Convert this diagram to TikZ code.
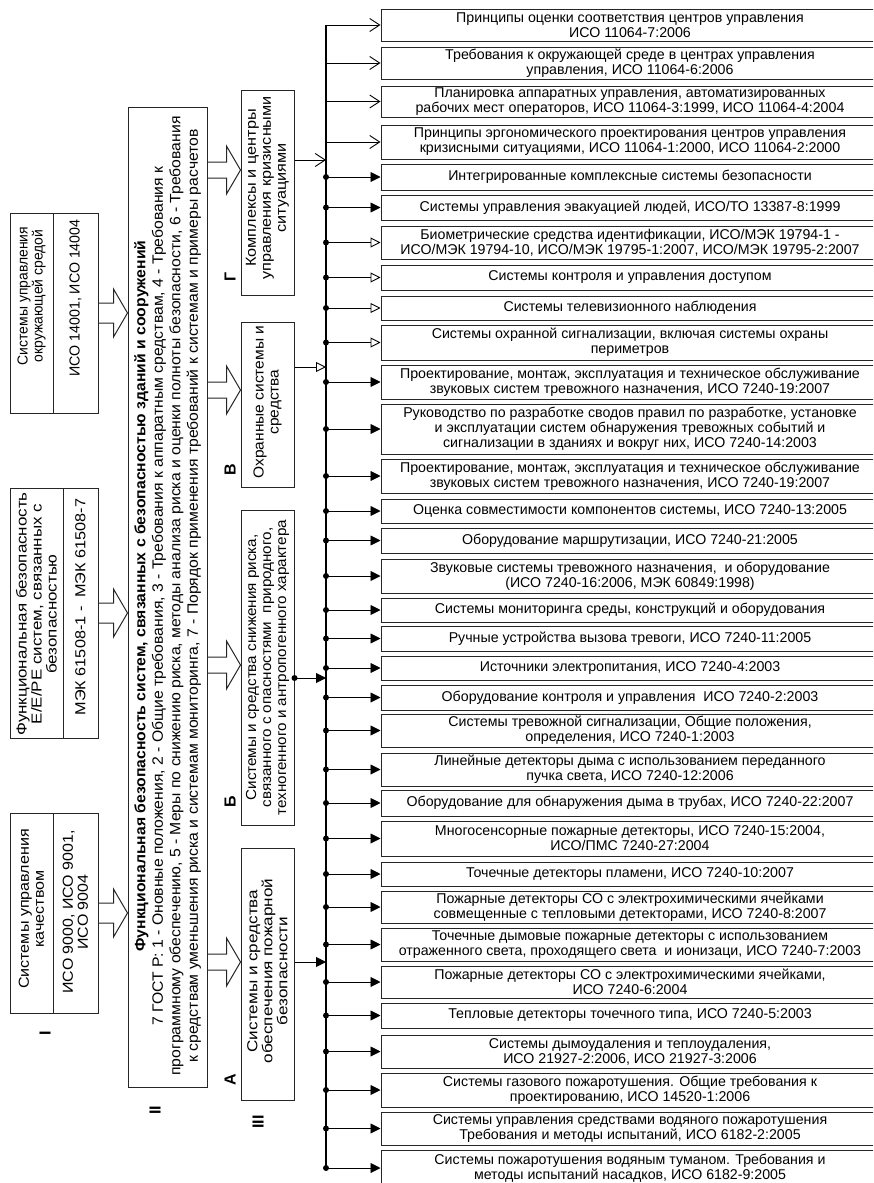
\documentclass[tikz,border=0pt]{standalone}
\usepackage{fontspec}
\setmainfont{Liberation Sans}
\usetikzlibrary{arrows.meta,calc}

\tikzset{
  frame/.style={draw=black!85, line width=1pt, inner sep=0pt},
  rtxt/.style={align=center, font=\fontsize{14.2}{15}\selectfont, inner sep=0pt},
  ltxt/.style={align=center, rotate=90, font=\fontsize{14.5}{15}\selectfont, inner sep=0pt},
  tag/.style={rotate=90, font=\fontsize{16}{16}\selectfont\bfseries, inner sep=0pt},
  conn/.style={line width=0.9pt},
  barb/.style={conn, -{Straight Barb[length=10pt,width=13pt,line width=0.9pt]}},
  solidtip/.style={conn, -{Triangle[length=10pt,width=10pt]}},
  hollowtip/.style={conn, -{Triangle[open,length=10pt,width=10pt]}},
  fat/.style={draw=black!85, line width=1pt},
  busline/.style={line width=1.4pt},
}

% one entry of the right-hand list: name, top, bottom, text
\newcommand\rowbox[4]{%
  \node[frame, minimum width=498, minimum height={#3-#2}] (#1) at (630,{(#2+#3)/2}) {};
  \node[rtxt] (#1t) at (630,{(#2+#3)/2}) {#4};
  \coordinate (#1j) at (bus |- #1.west);
}

% hollow block arrow between two boxes at height y: from, to, y, half shaft
\newcommand\fatarrow[4]{%
  \coordinate (fay) at (0,#3);
  \coordinate (fas) at (#1.east |- fay);
  \coordinate (fae) at (#2.west |- fay);
  \draw[fat] ($(fas)+(0,-#4)$) -- ($(fae)+(-14,-#4)$) -- ($(fae)+(-14,-24)$)
    -- (fae) -- ($(fae)+(-14,24)$) -- ($(fae)+(-14,#4)$) -- ($(fas)+(0,#4)$);
}

\begin{document}
\begin{tikzpicture}[x=1pt,y=-1pt]
\path[use as bounding box] (0,0) rectangle (873,1183);
\clip (0,0) rectangle (873,1183);
\fill[white] (0,0) rectangle (873,1183);

\coordinate (bus) at (326,0);

% ---- level I: standards boxes
\node[frame, minimum width=88, minimum height=200] (env) at (54,313) {};
\draw[frame] (53,213) -- (53,413);
\node[ltxt, xscale=0.96] (envA) at (31.5,296) {Системы управления\\окружающей средой};
\node[ltxt, xscale=0.98] (envB) at (75.5,298) {ИСО 14001, ИСО 14004};

\node[frame, minimum width=88, minimum height=250] (fun) at (54,613) {};
\draw[frame] (63,488) -- (63,738);
\node[ltxt, xscale=1.17] (funA) at (36.5,614) {Функциональная безопасность\\Е/Е/РЕ систем, связанных с\\безопасностью};
\node[ltxt, xscale=1.12] (funB) at (80.5,607) {МЭК 61508-1 -\ \ МЭК 61508-7};

\node[frame, minimum width=88, minimum height=200] (qual) at (54,913) {};
\draw[frame] (53,813) -- (53,1013);
\node[ltxt, xscale=1.11] (qualA) at (31.5,909) {Системы управления\\качеством};
\node[ltxt, xscale=1.1] (qualB) at (75.5,912) {ИСО 9000, ИСО 9001,\\ИСО 9004};

% ---- level II
\node[frame, minimum width=79, minimum height=980] (gost) at (167.5,597) {};
\node[ltxt, xscale=1.05, font=\fontsize{15}{17.5}\selectfont] (gostt) at (167.5,596) {%
{\bfseries Функциональная безопасность систем, связанных с безопасностью зданий и сооружений}\\
7 ГОСТ Р: 1 - Оновные положения, 2 - Общие требования, 3 - Требования к аппаратным средствам, 4 - Требования к\\
программному обеспечению, 5 - Меры по снижению риска, методы анализа риска и оценки полноты безопасности, 6 - Требования\\
к средствам уменьшения риска и системам мониторинга, 7 - Порядок применения требований к системам и примеры расчетов};

% ---- level III
\node[frame, minimum width=53, minimum height=205] (G) at (267.5,192.5) {};
\node[ltxt, xscale=1.12] (Gt) at (267.5,188) {Комплексы и центры\\управления кризисными\\ситуациями};
\node[frame, minimum width=53, minimum height=165] (V) at (267.5,404.5) {};
\node[ltxt, xscale=1.07] (Vt) at (267.5,402) {Охранные системы и\\средства};
\node[frame, minimum width=53, minimum height=315] (B) at (267.5,667.5) {};
\node[ltxt, xscale=1.05] (Bt) at (267.5,667.5) {Системы и средства снижения риска,\\связанного с опасностями\ \ природного,\\техногенного и антропогенного характера};
\node[frame, minimum width=53, minimum height=252] (A) at (267.5,974) {};
\node[ltxt, xscale=1.18] (At) at (267.5,971) {Системы и средства\\обеспечения пожарной\\безопасности};

% ---- level marks
\node[tag] (tI) at (45,1033) {I};
\node[tag] (tII) at (155,1110) {II};
\node[tag] (tIII) at (258,1122) {III};
\node[tag] (tA) at (230,1080) {А};
\node[tag] (tB) at (230,802) {Б};
\node[tag] (tV) at (230,470) {В};
\node[tag] (tG) at (230,277) {Г};

% ---- block arrows
\fatarrow{env}{gost}{313}{10}
\fatarrow{fun}{gost}{613}{10}
\fatarrow{qual}{gost}{913}{10}
\fatarrow{gost}{G}{170}{8}
\fatarrow{gost}{V}{390}{8}
\fatarrow{gost}{B}{665}{8}
\fatarrow{gost}{A}{962}{8}

% ---- right-hand list
\rowbox{b1}{9}{41}{Принципы оценки соответствия центров управления\\ИСО 11064-7:2006}
\rowbox{b2}{47}{79}{Требования к окружающей среде в центрах управления\\управления, ИСО 11064-6:2006}
\rowbox{b3}{86}{117}{Планировка аппаратных управления, автоматизированных\\рабочих мест операторов, ИСО 11064-3:1999, ИСО 11064-4:2004}
\rowbox{b4}{125}{159}{Принципы эргономического проектирования центров управления\\кризисными ситуациями, ИСО 11064-1:2000, ИСО 11064-2:2000}
\rowbox{b5}{164}{190}{Интегрированные комплексные системы безопасности}
\rowbox{b6}{195}{220}{Системы управления эвакуацией людей, ИСО/ТО 13387-8:1999}
\rowbox{b7}{226}{259}{Биометрические средства идентификации, ИСО/МЭК 19794-1 -\\ИСО/МЭК 19794-10, ИСО/МЭК 19795-1:2007, ИСО/МЭК 19795-2:2007}
\rowbox{b8}{265}{290}{Системы контроля и управления доступом}
\rowbox{b9}{296}{320}{Системы телевизионного наблюдения}
\rowbox{b10}{325}{360}{Системы охранной сигнализации, включая системы охраны\\периметров}
\rowbox{b11}{365}{399}{Проектирование, монтаж, эксплуатация и техническое обслуживание\\звуковых систем тревожного назначения, ИСО 7240-19:2007}
\rowbox{b12}{404}{454}{Руководство по разработке сводов правил по разработке, установке\\и эксплуатации систем обнаружения тревожных событий и\\сигнализации в зданиях и вокруг них, ИСО 7240-14:2003}
\rowbox{b13}{459}{493}{Проектирование, монтаж, эксплуатация и техническое обслуживание\\звуковых систем тревожного назначения, ИСО 7240-19:2007}
\rowbox{b14}{499}{523}{Оценка совместимости компонентов системы, ИСО 7240-13:2005}
\rowbox{b15}{528}{553}{Оборудование маршрутизации, ИСО 7240-21:2005}
\rowbox{b16}{559}{593}{Звуковые системы тревожного назначения,\ \ и оборудование\\(ИСО 7240-16:2006, МЭК 60849:1998)}
\rowbox{b17}{598}{622}{Системы мониторинга среды, конструкций и оборудования}
\rowbox{b18}{626}{651}{Ручные устройства вызова тревоги, ИСО 7240-11:2005}
\rowbox{b19}{656}{680}{Источники электропитания, ИСО 7240-4:2003}
\rowbox{b20}{685}{710}{Оборудование контроля и управления\ \ ИСО 7240-2:2003}
\rowbox{b21}{714}{747}{Системы тревожной сигнализации, Общие положения,\\определения, ИСО 7240-1:2003}
\rowbox{b22}{753}{786}{Линейные детекторы дыма с использованием переданного\\пучка света, ИСО 7240-12:2006}
\rowbox{b23}{790}{816}{Оборудование для обнаружения дыма в трубах, ИСО 7240-22:2007}
\rowbox{b24}{821}{856}{Многосенсорные пожарные детекторы, ИСО 7240-15:2004,\\ИСО/ПМС 7240-27:2004}
\rowbox{b25}{862}{886}{Точечные детекторы пламени, ИСО 7240-10:2007}
\rowbox{b26}{891}{923}{Пожарные детекторы СО с электрохимическими ячейками\\совмещенные с тепловыми детекторами, ИСО 7240-8:2007}
\rowbox{b27}{928}{961}{Точечные дымовые пожарные детекторы с использованием\\отраженного света, проходящего света\ \ и ионизаци, ИСО 7240-7:2003}
\rowbox{b28}{966}{998}{Пожарные детекторы СО с электрохимическими ячейками,\\ИСО 7240-6:2004}
\rowbox{b29}{1003}{1028}{Тепловые детекторы точечного типа, ИСО 7240-5:2003}
\rowbox{b30}{1035}{1068}{Системы дымоудаления и теплоудаления,\\ИСО 21927-2:2006, ИСО 21927-3:2006}
\rowbox{b31}{1073}{1107}{Системы газового пожаротушения. Общие требования к\\проектированию, ИСО 14520-1:2006}
\rowbox{b32}{1112}{1145}{Системы управления средствами водяного пожаротушения\\Требования и методы испытаний, ИСО 6182-2:2005}
\rowbox{b33}{1150}{1186}{Системы пожаротушения водяным туманом. Требования и\\методы испытаний насадков, ИСО 6182-9:2005}

% ---- bus and branches
\draw[busline] (b1j) -- (b33j);
\foreach \k in {1,...,4} \draw[barb] (b\k j) -- (b\k.west);
\foreach \k in {5,6,11,12,...,33} \draw[solidtip] (b\k j) -- (b\k.west);
\foreach \k in {7,...,10} \draw[hollowtip] (b\k j) -- (b\k.west);
\foreach \k in {5,...,33} \fill (b\k j) circle (3pt);

% ---- level III groups joining the bus
\coordinate (gy) at (0,160);
\coordinate (vy) at (0,367);
\coordinate (by) at (0,678);
\coordinate (ay) at (0,962);
\coordinate (gj) at (bus |- gy);
\coordinate (vj) at (bus |- vy);
\coordinate (bj) at (bus |- by);
\coordinate (aj) at (bus |- ay);
\draw[barb] (G.east |- gj) -- (gj);
\draw[hollowtip] (V.east |- vj) -- (vj);
\draw[solidtip] (B.east |- bj) -- (bj);
\fill (B.east |- bj) circle (3pt);
\draw[solidtip] (A.east |- aj) -- (aj);
\end{tikzpicture}
\end{document}
